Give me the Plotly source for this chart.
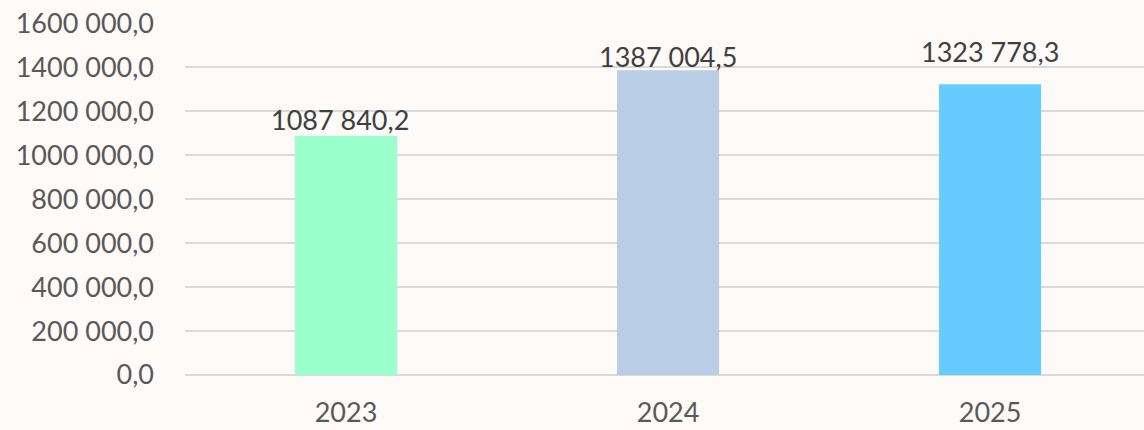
import plotly.graph_objects as go

years = ["2023", "2024", "2025"]
values = [1087840.2, 1387004.5, 1323778.3]
value_labels = ["1087 840,2", "1387 004,5", "1323 778,3"]
bar_colors = ["#99FFCC", "#B9CDE4", "#66CCFF"]
tick_vals = [0, 200000, 400000, 600000, 800000, 1000000, 1200000, 1400000, 1600000]
tick_text = ["0,0", "200 000,0", "400 000,0", "600 000,0", "800 000,0",
             "1000 000,0", "1200 000,0", "1400 000,0", "1600 000,0"]

# manual label nudges (pixels), as placed in the original chart
label_nudge = {0: (-6, -2), 1: (0, -5), 2: (0, 14)}

fig = go.Figure(go.Bar(
    x=years, y=values,
    marker=dict(color=bar_colors, line=dict(width=0)),
    width=0.317, hoverinfo="skip",
))

for i, (v, lab) in enumerate(zip(values, value_labels)):
    dx, dy = label_nudge[i]
    fig.add_annotation(x=i, y=v, text=lab, showarrow=False,
                       xanchor="center", yanchor="bottom",
                       xshift=dx, yshift=dy,
                       font=dict(family="Lato", size=27, color="#404040"))

fig.update_layout(
    width=1144, height=430,
    margin=dict(l=185, r=0, t=23, b=55),
    paper_bgcolor="#fefaf7", plot_bgcolor="rgba(0,0,0,0)",
    showlegend=False,
    font=dict(family="Lato", size=27, color="#595959"),
)
fig.update_xaxes(type="category", range=[-0.5, 2.478], showgrid=False,
                 showline=False, ticks="", tickfont=dict(size=27, color="#595959"),
                 ticklabelstandoff=19)
fig.update_yaxes(range=[0, 1602500], tickvals=tick_vals, ticktext=tick_text,
                 showgrid=True, gridcolor="#d9d9d9", gridwidth=2,
                 zeroline=True, zerolinecolor="#d9d9d9", zerolinewidth=2,
                 ticks="", tickfont=dict(size=27, color="#595959"),
                 ticklabelstandoff=30)

fig.write_html("out.html", config={"displayModeBar": False},
               post_script="document.body.style.margin='0';")
